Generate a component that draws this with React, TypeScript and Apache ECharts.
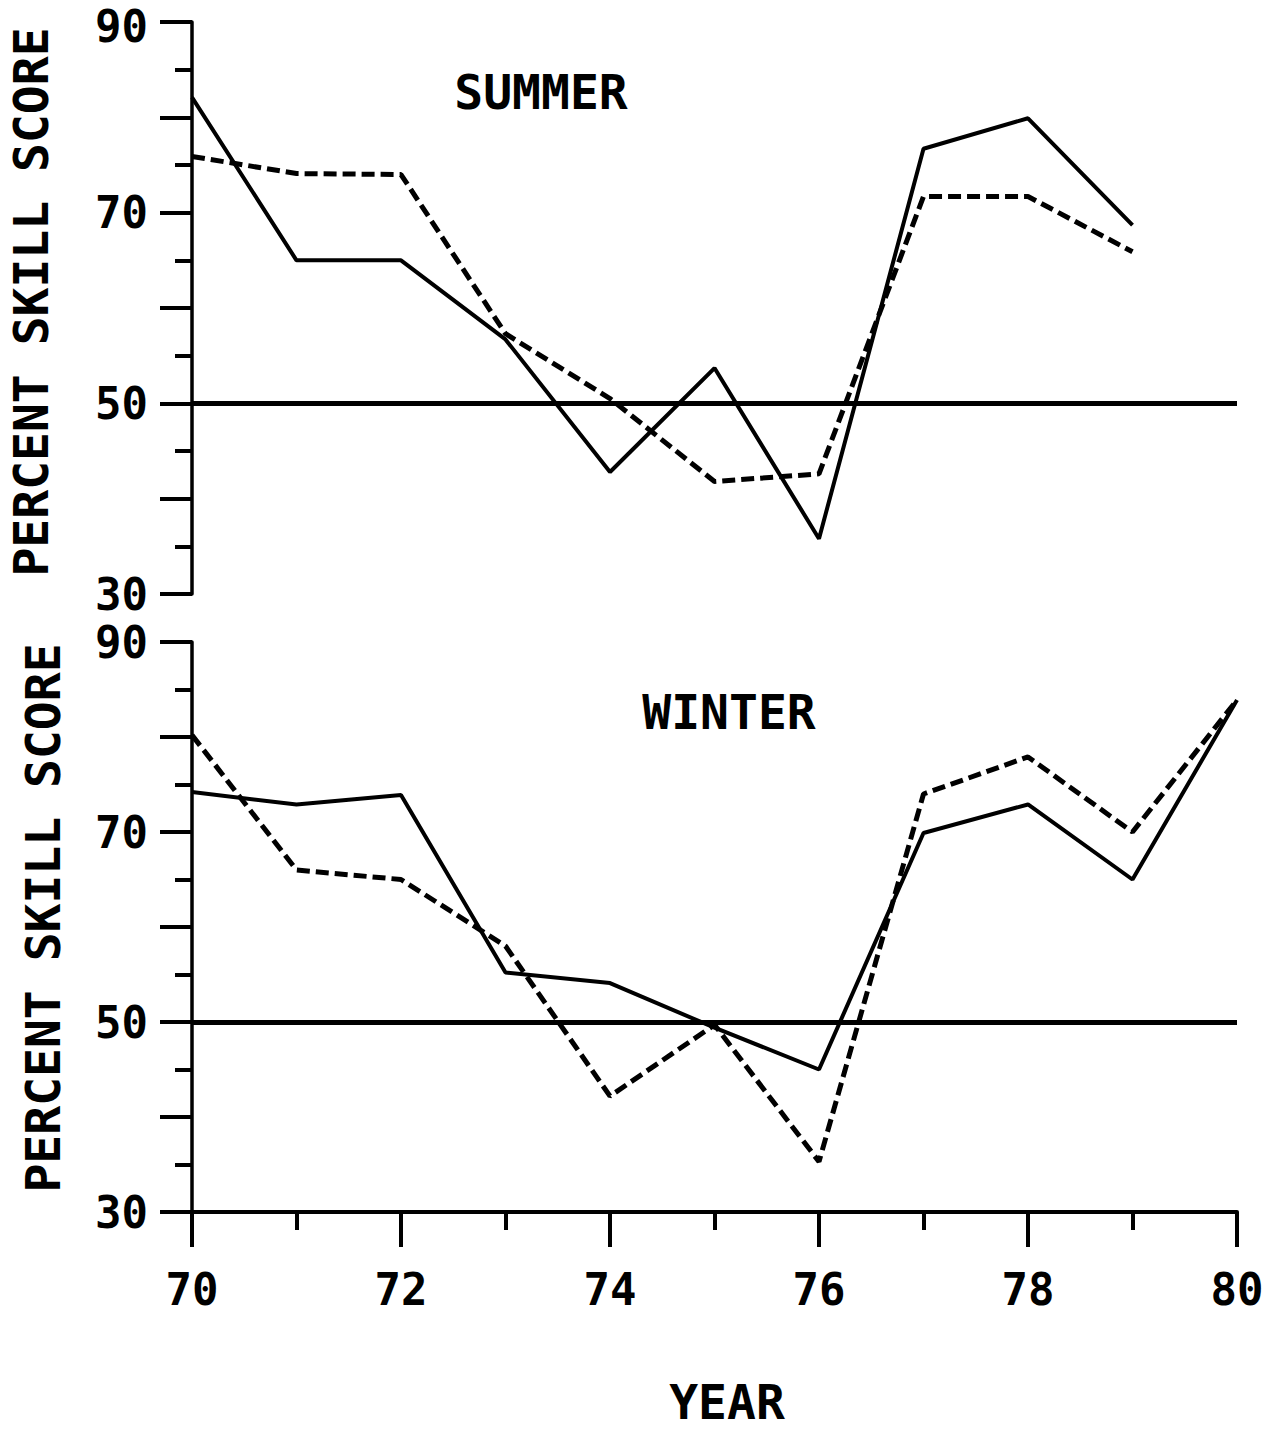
import React, { useEffect, useRef } from "react";
import * as echarts from "echarts";

const years = [70, 71, 72, 73, 74, 75, 76, 77, 78, 79, 80];
const summerSolid = [82.1, 65, 65, 56.7, 42.8, 53.7, 35.8, 76.7, 79.9, 68.7];
const summerDashed = [75.9, 74.1, 74.0, 57.3, 50.5, 41.8, 42.6, 71.7, 71.7, 65.9];
const winterSolid = [74.2, 72.9, 73.9, 55.2, 54.1, 49.4, 45.0, 69.9, 72.9, 65.0, 83.9];
const winterDashed = [80.2, 66.0, 65.0, 58.0, 42.2, 49.7, 35.3, 74.0, 77.9, 70.0, 83.9];
const yTickLabels = [30, 50, 70, 90];
const xTickLabels = [70, 72, 74, 76, 78, 80];
const referenceLevel = 50;

const FONT = "'DejaVu Sans Mono', monospace";

function pairs(vals: number[]) {
  return vals.map((v, i) => [years[i], v]);
}

export default function App() {
  const ref = useRef<HTMLDivElement>(null);
  useEffect(() => {
    document.body.style.margin = "0";
    const chart = echarts.init(ref.current!, null, { renderer: "svg" });
    const yAxisBase = (gridIndex: number) => ({
      type: "value",
      gridIndex,
      min: 30,
      max: 90,
      interval: 10,
      axisLine: { show: true, lineStyle: { color: "#000", width: 3.5 } },
      axisTick: { show: true, length: 32, lineStyle: { color: "#000", width: 4 } },
      minorTick: { show: true, splitNumber: 2, length: 17, lineStyle: { color: "#000", width: 4 } },
      splitLine: { show: false },
      minorSplitLine: { show: false },
      axisLabel: {
        margin: 44,
        color: "#000",
        fontFamily: FONT,
        fontWeight: "bold",
        fontSize: 44,
        lineHeight: 34,
        formatter: (v: number) => {
          if (!yTickLabels.includes(v)) return "";
          return gridIndex === 0 && v === 90 ? `{t|${v}}` : String(v);
        },
        rich: {
          t: {
            fontFamily: FONT,
            fontWeight: "bold",
            fontSize: 44,
            lineHeight: 34,
            color: "#000",
            padding: [8, 0, 0, 0],
          },
        },
      },
    });
    const lineSolid = { color: "#000", width: 4 };
    const lineDashed = { color: "#000", width: 5, type: [13, 6] };
    const mark = {
      silent: true,
      symbol: "none",
      label: { show: false },
      lineStyle: { color: "#000", width: 5, type: "solid" },
      data: [{ yAxis: referenceLevel }],
    };
    chart.setOption({
      animation: false,
      backgroundColor: "#fff",
      grid: [
        { left: 192, top: 22, width: 1045, height: 572, outerBoundsMode: "none", containLabel: false },
        { left: 192, top: 642, width: 1045, height: 570, outerBoundsMode: "none", containLabel: false },
      ],
      xAxis: [
        { type: "value", gridIndex: 0, min: 70, max: 80, show: false },
        {
          type: "value",
          gridIndex: 1,
          min: 70,
          max: 80,
          interval: 2,
          axisLine: { show: true, onZero: false, lineStyle: { color: "#000", width: 4 } },
          axisTick: { show: true, length: 35, lineStyle: { color: "#000", width: 4 } },
          minorTick: { show: true, splitNumber: 2, length: 18, lineStyle: { color: "#000", width: 4 } },
          splitLine: { show: false },
          minorSplitLine: { show: false },
          axisLabel: {
            margin: 55,
            color: "#000",
            fontFamily: FONT,
            fontWeight: "bold",
            fontSize: 44,
            formatter: (v: number) => (xTickLabels.includes(v) ? String(v) : ""),
          },
        },
      ],
      yAxis: [yAxisBase(0), yAxisBase(1)],
      series: [
        {
          type: "line", xAxisIndex: 0, yAxisIndex: 0, data: pairs(summerSolid),
          symbol: "none", lineStyle: lineSolid, markLine: mark,
        },
        {
          type: "line", xAxisIndex: 0, yAxisIndex: 0, data: pairs(summerDashed),
          symbol: "none", lineStyle: lineDashed,
        },
        {
          type: "line", xAxisIndex: 1, yAxisIndex: 1, data: pairs(winterSolid),
          symbol: "none", lineStyle: lineSolid, markLine: mark,
        },
        {
          type: "line", xAxisIndex: 1, yAxisIndex: 1, data: pairs(winterDashed),
          symbol: "none", lineStyle: lineDashed,
        },
      ],
      graphic: [
        {
          type: "text", x: 541, y: 92,
          style: { text: "SUMMER", font: `bold 48px ${FONT}`, fill: "#000", align: "center", verticalAlign: "middle" },
        },
        {
          type: "text", x: 729, y: 712,
          style: { text: "WINTER", font: `bold 48px ${FONT}`, fill: "#000", align: "center", verticalAlign: "middle" },
        },
        {
          type: "text", x: 727, y: 1402,
          style: { text: "YEAR", font: `bold 48px ${FONT}`, fill: "#000", align: "center", verticalAlign: "middle" },
        },
        {
          type: "text", x: 31, y: 302, rotation: Math.PI / 2,
          style: { text: "PERCENT SKILL SCORE", font: `bold 48px ${FONT}`, fill: "#000", align: "center", verticalAlign: "middle" },
        },
        {
          type: "text", x: 43, y: 918, rotation: Math.PI / 2,
          style: { text: "PERCENT SKILL SCORE", font: `bold 48px ${FONT}`, fill: "#000", align: "center", verticalAlign: "middle" },
        },
      ],
    });
    return () => chart.dispose();
  }, []);
  return <div ref={ref} style={{ width: 1285, height: 1429 }} />;
}
